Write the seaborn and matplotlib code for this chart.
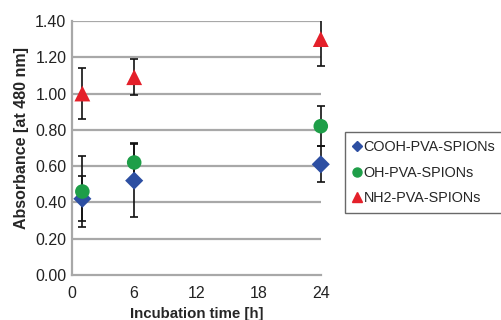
import numpy as np
import pandas as pd
import matplotlib
matplotlib.use('Agg')
import matplotlib.pyplot as plt
import seaborn as sns
from matplotlib.patches import Rectangle

# valores
tempos = [1, 6, 24]
series = ['COOH-PVA-SPIONs', 'OH-PVA-SPIONs', 'NH2-PVA-SPIONs']
cooh = [0.42, 0.52, 0.61]
cooh_err = [0.125, 0.20, 0.10]
oh = [0.46, 0.62, 0.82]
oh_err = [0.195, 0.11, 0.11]
nh2 = [1.00, 1.09, 1.30]
nh2_err = [0.14, 0.10, 0.15]
yticks = [0.0, 0.2, 0.4, 0.6, 0.8, 1.0, 1.2, 1.4]
xticks = [0, 6, 12, 18, 24]

cores = {'COOH-PVA-SPIONs': '#2D4FA2', 'OH-PVA-SPIONs': '#1E9E48', 'NH2-PVA-SPIONs': '#E4202A'}
marcadores = {'COOH-PVA-SPIONs': 'D', 'OH-PVA-SPIONs': 'o', 'NH2-PVA-SPIONs': '^'}
tamanhos = {'COOH-PVA-SPIONs': 85, 'OH-PVA-SPIONs': 110, 'NH2-PVA-SPIONs': 130}

sns.set_style('white')
plt.rcParams['font.family'] = ['Liberation Sans', 'DejaVu Sans']

df = pd.DataFrame({
    'tempo': tempos * 3,
    'abs': cooh + oh + nh2,
    'err': cooh_err + oh_err + nh2_err,
    'serie': [s for s in series for _ in tempos],
})

fig = plt.figure(figsize=(5.02, 3.2), dpi=100)
ax = fig.add_axes([0.1434, 0.1406, 0.4956, 0.794])

# barras de erro (cortadas só em cima/baixo, não dos lados)
clip = Rectangle((-0.2, 0), 1.4, 1, transform=ax.transAxes, visible=False)
ax.add_patch(clip)
for s in series:
    d = df[df['serie'] == s]
    eb = ax.errorbar(d['tempo'], d['abs'], yerr=d['err'], fmt='none', ecolor='#111111',
                     elinewidth=1.2, capsize=3, capthick=1.2, zorder=3)
    for art in list(eb.lines[1]) + list(eb.lines[2]):
        art.set_clip_path(clip)

for s in series:
    d = df[df['serie'] == s]
    sns.scatterplot(data=d, x='tempo', y='abs', color=cores[s], marker=marcadores[s],
                    s=tamanhos[s], edgecolor='none', ax=ax, zorder=4, clip_on=False,
                    label=s, legend=False)

ax.set_xlim(0, 24)
ax.set_ylim(0, 1.4)
ax.set_xticks(xticks)
ax.set_yticks(yticks)
ax.set_yticklabels([f'{v:.2f}' for v in yticks])
for v in yticks[1:]:
    ax.axhline(v, color='#A8A8A8', lw=1.6, zorder=1)

for lado in ['top', 'right']:
    ax.spines[lado].set_visible(False)
for lado in ['left', 'bottom']:
    ax.spines[lado].set_color('#A8A8A8')
    ax.spines[lado].set_linewidth(1.6)
ax.tick_params(axis='both', width=1.2, color='#A8A8A8', labelsize=11.5, labelcolor='#222222')
ax.tick_params(axis='x', direction='inout', length=6, pad=5)
ax.tick_params(axis='y', direction='out', length=3, pad=1)

ax.set_xlabel('Incubation time [h]', fontsize=10.8, fontweight='bold', labelpad=4)
ax.set_ylabel('Absorbance [at 480 nm]', fontsize=11.5, fontweight='bold')
ax.yaxis.set_label_coords(-0.201, 0.54)
ax.yaxis.label.set_verticalalignment('center')

handles = [plt.Line2D([], [], ls='none', marker=marcadores[s], color=cores[s],
                      markersize=6.5 if s != 'COOH-PVA-SPIONs' else 5.5) for s in series]
leg = ax.legend(handles, series, loc='center left', bbox_to_anchor=(1.097, 0.403),
                frameon=True, fancybox=False, fontsize=10.4, handlelength=0.6,
                handletextpad=0.15, borderpad=0.55, labelspacing=0.8, borderaxespad=0)
leg.get_frame().set_edgecolor('#444444')
leg.get_frame().set_linewidth(1.0)

fig.savefig('out.png', dpi=100)
